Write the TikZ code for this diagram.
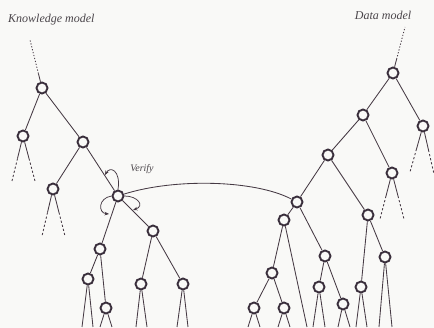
\documentclass[tikz,border=0pt]{standalone}
\usepackage{fontspec}
\setmainfont{Liberation Serif}
\usetikzlibrary{calc,arrows.meta}
\definecolor{ink}{HTML}{463A44}
\definecolor{nodeink}{HTML}{3A2F3C}
\definecolor{txt}{HTML}{4A454A}
\definecolor{paper}{HTML}{F9F9F7}
% solid start, dashed continuation for truncated branches
\newcommand\halfdash[2]{%
  \draw[edge] (#1) -- ($(#1)!.5!(#2)$);
  \draw[stub] ($(#1)!.5!(#2)$) -- (#2);}
\begin{document}
\begin{tikzpicture}[x=1pt,y=-1pt,
  vtx/.style={circle,draw=nodeink,line width=1.9pt,fill=paper,minimum size=11pt,inner sep=0pt},
  edge/.style={draw=ink,line width=0.85pt},
  stub/.style={draw=ink,line width=0.85pt,dash pattern=on 2.2pt off 2pt},
  dots/.style={draw=ink,line width=0.85pt,dash pattern=on 1.2pt off 1.8pt},
  rot/.style={draw=ink,line width=0.75pt,-{Stealth[length=4.5pt,width=3.6pt]}},
  title/.style={font=\itshape\fontsize{12}{12}\selectfont,text=txt,inner sep=0pt}]
\useasboundingbox[fill=paper] (0,0) rectangle (434,328);

% ---- titles
\node[title,anchor=west] (kmodel) at (8,20) {Knowledge model};
\node[title] (dmodel) at (383,15) {Data model};
\node[font=\itshape\fontsize{10}{10}\selectfont,text=txt,inner sep=0pt] (verify) at (142,169) {Verify};

% ---- knowledge tree
\node[vtx] (K1) at (42,88) {};
\node[vtx] (K2) at (23,136) {};
\node[vtx] (K3) at (83,142) {};
\node[vtx] (K4) at (53,189) {};
\node[vtx] (K5) at (118,196) {};
\node[vtx] (K6) at (100,249) {};
\node[vtx] (K7) at (153,231) {};
\node[vtx] (K8) at (88,279) {};
\node[vtx] (K9) at (106,308) {};
\node[vtx] (K10) at (141,284) {};
\node[vtx] (K11) at (183,284) {};

\coordinate (ktop) at (30,40);
\draw[edge] (K1) -- ($(K1)!.3!(ktop)$);
\draw[dots] ($(K1)!.3!(ktop)$) -- (ktop);

\draw[edge] (K1) -- (K2);
\draw[edge] (K1) -- (K3);
\draw[edge] (K3) -- (K4);
\draw[edge] (K3) -- (K5);
\draw[edge] (K5) -- (K6);
\draw[edge] (K5) -- (K7);
\draw[edge] (K6) -- (K8);
\draw[edge] (K6) -- (K9);
\draw[edge] (K7) -- (K10);
\draw[edge] (K7) -- (K11);

\coordinate (k2a) at (12,181);  \coordinate (k2b) at (35,181);
\coordinate (k4a) at (42,236);  \coordinate (k4b) at (65,236);
\halfdash{K2}{k2a} \halfdash{K2}{k2b}
\halfdash{K4}{k4a} \halfdash{K4}{k4b}

\coordinate (k8a) at (82,327);   \coordinate (k8b) at (93,327);
\coordinate (k9a) at (100,327);  \coordinate (k9b) at (112,327);
\coordinate (k10a) at (136,327); \coordinate (k10b) at (147,327);
\coordinate (k11a) at (177,327); \coordinate (k11b) at (188,327);
\foreach \n/\a/\b in {K8/k8a/k8b,K9/k9a/k9b,K10/k10a/k10b,K11/k11a/k11b}
  {\draw[edge] (\a) -- (\n) -- (\b);}

% ---- data tree
\node[vtx] (D1) at (393,73) {};
\node[vtx] (D2) at (363,115) {};
\node[vtx] (D3) at (423,126) {};
\node[vtx] (D4) at (328,155) {};
\node[vtx] (D5) at (392,173) {};
\node[vtx] (D6) at (297,202) {};
\node[vtx] (D7) at (368,215) {};
\node[vtx] (D8) at (284,220) {};
\node[vtx] (D9) at (325,256) {};
\node[vtx] (D10) at (272,273) {};
\node[vtx] (D12) at (254,308) {};
\node[vtx] (D13) at (284,308) {};
\node[vtx] (D14) at (319,287) {};
\node[vtx] (D15) at (343,304) {};
\node[vtx] (D16) at (361,287) {};
\node[vtx] (D17) at (385,257) {};

\coordinate (dtop) at (405,27);
\draw[edge] (D1) -- ($(D1)!.3!(dtop)$);
\draw[dots] ($(D1)!.3!(dtop)$) -- (dtop);

\draw[edge] (D1) -- (D2);
\draw[edge] (D1) -- (D3);
\draw[edge] (D2) -- (D4);
\draw[edge] (D2) -- (D5);
\draw[edge] (D4) -- (D6);
\draw[edge] (D4) -- (D7);
\draw[edge] (D6) -- (D8);
\draw[edge] (D6) -- (D9);
\draw[edge] (D8) -- (D10);
\draw[edge] (D10) -- (D12);
\draw[edge] (D10) -- (D13);
\draw[edge] (D9) -- (D14);
\draw[edge] (D9) -- (D15);
\draw[edge] (D7) -- (D16);
\draw[edge] (D7) -- (D17);

\coordinate (d3a) at (410,172); \coordinate (d3b) at (434,174);
\coordinate (d5a) at (380,219); \coordinate (d5b) at (404,219);
\halfdash{D3}{d3a} \halfdash{D3}{d3b}
\halfdash{D5}{d5a} \halfdash{D5}{d5b}

\coordinate (d8a) at (307,327);
\draw[edge] (D8) -- (d8a);
\coordinate (d12a) at (248,327); \coordinate (d12b) at (260,327);
\coordinate (d13a) at (278,327); \coordinate (d13b) at (290,327);
\coordinate (d14a) at (313,327); \coordinate (d14b) at (325,327);
\coordinate (d15a) at (338,327); \coordinate (d15b) at (350,327);
\coordinate (d16a) at (356,327); \coordinate (d16b) at (367,327);
\coordinate (d17a) at (379,327); \coordinate (d17b) at (392,327);
\foreach \n/\a/\b in {D12/d12a/d12b,D13/d13a/d13b,D14/d14a/d14b,D15/d15a/d15b,D16/d16a/d16b,D17/d17a/d17b}
  {\draw[edge] (\a) -- (\n) -- (\b);}

% ---- verification link between the two models
\draw[edge] (K5) .. controls (175,178) and (255,180) .. (D6);

% ---- rotation arrows around the verified node
\coordinate (r1) at (105,175);
\coordinate (r2) at (109,214);
\coordinate (r3) at (133,210);
\draw[rot] (K5.north) .. controls (121,170) and (110,166) .. (r1);
\draw[rot] (K5.west) .. controls (98,198) and (98,213) .. (r2);
\draw[rot] (K5.east) .. controls (138,196) and (145,206) .. (r3);
\end{tikzpicture}
\end{document}
